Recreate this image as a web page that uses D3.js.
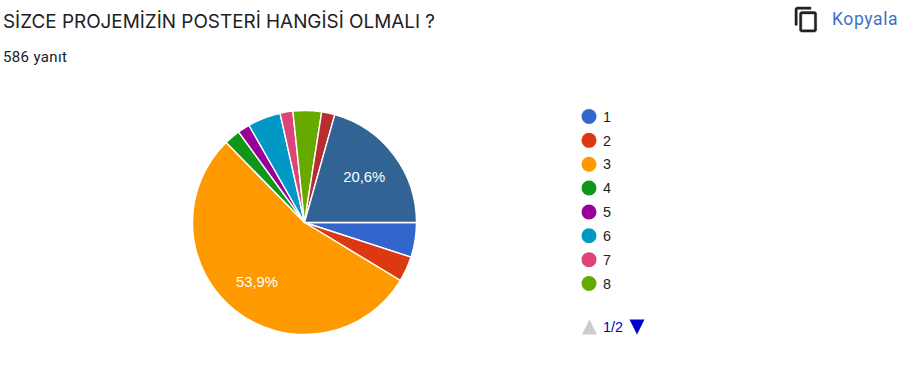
<!DOCTYPE html>
<html><head><meta charset="utf-8">
<script src="https://cdn.jsdelivr.net/npm/d3@7/dist/d3.min.js"></script>
<style>html,body{margin:0;padding:0;background:#fff;overflow:hidden}svg{display:block}</style>
</head><body><svg id="c" width="913" height="368"></svg>
<script>
const categories = ["1","2","3","4","5","6","7","8","9","10"];
const values = [5.0,3.65,53.9,2.3,1.75,4.75,1.85,4.1,1.9,20.6];
const colors = ["#3366cc","#dc3912","#ff9900","#109618","#990099","#0099c6","#dd4477","#66aa00","#b82e2e","#316395"];
const labelled = {"3":"53,9%","10":"20,6%"};
const legendItems = categories.slice(0,8);
const title = "SİZCE PROJEMİZİN POSTERİ HANGİSİ OLMALI ?";
const subtitle = "586 yanıt";
const copyLabel = "Kopyala";
const pageLabel = "1/2";

const svg = d3.select("#c");
const cx = 304.5, cy = 222.5, R = 112;
const pie = d3.pie().sort(null).value(d=>d.v).startAngle(Math.PI/2).endAngle(Math.PI/2+2*Math.PI);
const arc = d3.arc().innerRadius(0).outerRadius(R);
const labelArc = d3.arc().innerRadius(R*0.675).outerRadius(R*0.675);
const data = pie(categories.map((c,i)=>({c,v:values[i],col:colors[i]})));
const g = svg.append("g").attr("transform",`translate(${cx},${cy})`);
g.selectAll("path").data(data).join("path").attr("d",arc)
  .attr("fill",d=>d.data.col).attr("stroke","#fff").attr("stroke-width",1.4);
g.selectAll("text").data(data.filter(d=>labelled[d.data.c])).join("text")
  .attr("x",d=>labelArc.centroid(d)[0]-0.5).attr("y",d=>labelArc.centroid(d)[1])
  .attr("text-anchor","middle").attr("dy","0.35em")
  .attr("font-family","'Liberation Sans',Arial,sans-serif").attr("font-size",14.8)
  .attr("fill","#fff").text(d=>labelled[d.data.c]);

svg.append("text").attr("x",3).attr("y",28).attr("font-family","Inter,Roboto,sans-serif")
  .attr("font-size",18.9).attr("fill","#202124").text(title);
svg.append("text").attr("x",3).attr("y",62).attr("font-family","Roboto,sans-serif")
  .attr("font-size",15).attr("letter-spacing",0.35).attr("fill","#202124").text(subtitle);

// copy icon
const ic = svg.append("g").attr("transform","translate(792.7,5.9) scale(1.14)").attr("fill","#202124").attr("stroke","#202124").attr("stroke-width",0.4);
ic.append("path").attr("d","M16 1H4C2.9 1 2 1.9 2 3v14h2V3h12V1zm3 4H8C6.9 5 6 5.9 6 7v14c0 1.1.9 2 2 2h11c1.1 0 2-.9 2-2V7c0-1.1-.9-2-2-2zm0 16H8V7h11v14z");
svg.append("text").attr("x",832).attr("y",25).attr("font-family","Roboto,sans-serif")
  .attr("font-size",17.5).attr("letter-spacing",0.6).attr("fill","#3f6fc9").text(copyLabel);

// legend
const ly = d3.scalePoint().domain(legendItems).range([116.5,283.5]);
const leg = svg.append("g").selectAll("g").data(legendItems).join("g")
  .attr("transform",d=>`translate(589,${ly(d)})`);
leg.append("circle").attr("r",7.5).attr("fill",(d,i)=>colors[i]);
leg.append("text").attr("x",14).attr("dy","0.36em").attr("font-family","'Liberation Sans',Arial,sans-serif")
  .attr("font-size",14.4).attr("fill","#222").text(d=>d);

// pager
svg.append("path").attr("d","M582 334.5 L589.5 319.5 L597 334.5 Z").attr("fill","#ccc");
svg.append("path").attr("d","M629.5 319.5 L644.5 319.5 L637 334.5 Z").attr("fill","#0000cc");
svg.append("text").attr("x",603).attr("y",332).attr("font-family","'Liberation Sans',Arial,sans-serif")
  .attr("font-size",14.4).attr("fill","#0000cc").text(pageLabel);
</script></body></html>
